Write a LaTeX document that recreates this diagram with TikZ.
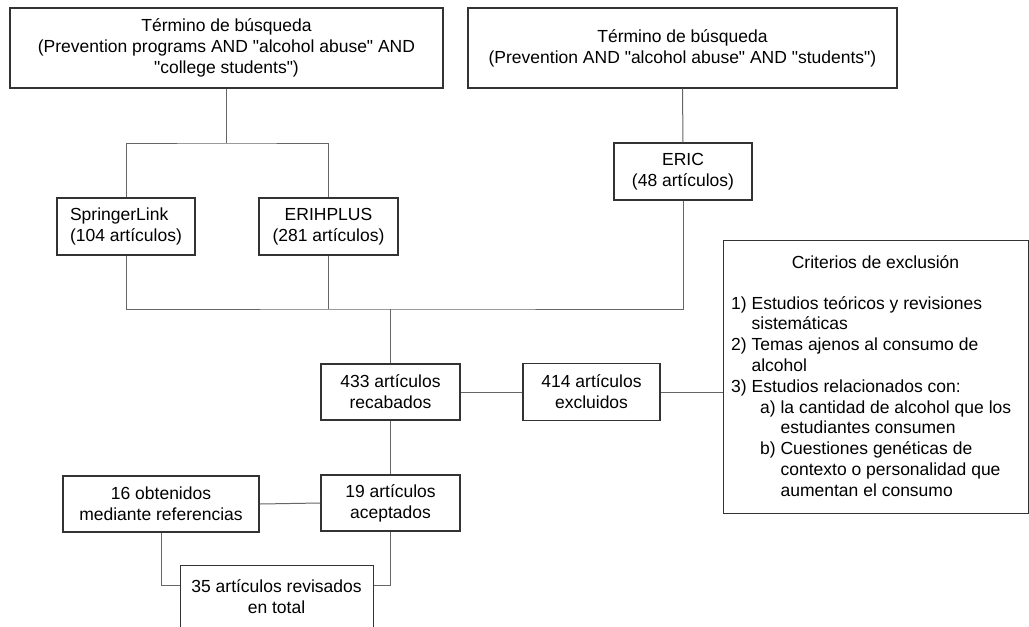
\documentclass[tikz,border=0pt]{standalone}
\usepackage{fontspec}
\setmainfont{Liberation Sans}[Ligatures=TeXOff]
\begin{document}
\begin{tikzpicture}[x=1pt,y=-1pt,
  box/.style={draw=black!80, line width=1.2pt, fill=white, inner sep=0pt, align=center, text=black},
  boldbox/.style={box, line width=1.8pt},
  link/.style={draw=black!60, line width=1pt},
  txt/.style={inner sep=0pt, text=black}]
\fontsize{17.5}{20.8}\selectfont
\useasboundingbox (0,0) rectangle (1029,627);
\clip (0,0) rectangle (1029,627);

% search terms
\node[box, minimum width=433, minimum height=80] (t1) at (226.5,48)
  {Término de búsqueda\\(Prevention programs AND "alcohol abuse" AND\\"college students")};
\node[box, minimum width=429, minimum height=80] (t2) at (682.5,48)
  {Término de búsqueda\\(Prevention AND "alcohol abuse" AND "students")};

% databases
\node[box, minimum width=138, minimum height=57, align=left] (spr) at (126,226.5)
  {SpringerLink\\(104 artículos)};
\node[box, minimum width=139, minimum height=57] (eri) at (328.5,226.5)
  {ERIHPLUS\\(281 artículos)};
\node[box, minimum width=138, minimum height=57] (eric) at (683,171.5)
  {ERIC\\(48 artículos)};

% screening
\node[boldbox, minimum width=139, minimum height=56] (rec) at (390.5,392)
  {433 artículos\\recabados};
\node[boldbox, minimum width=137, minimum height=57] (exc) at (591.5,392)
  {414 artículos\\excluidos};
\node[boldbox, minimum width=139, minimum height=56] (acc) at (390.5,503)
  {19 artículos\\aceptados};
\node[boldbox, minimum width=196, minimum height=56] (ref) at (161,504)
  {16 obtenidos\\mediante referencias};
\node[box, minimum width=193, minimum height=95, anchor=north west] (tot) at (180,565) {};
\node[txt, align=center] (tottext) at (276.5,597) {35 artículos revisados\\en total};

% exclusion criteria
\node[box, minimum width=305, minimum height=273, anchor=north west] (crit) at (723,240) {};
\node[txt, anchor=base] (crittitle) at (875.5,268) {Criterios de exclusión};
\node[txt, anchor=north west, align=left] (critlist) at (731,296)
  {1) Estudios teóricos y revisiones\\
   \phantom{1) }sistemáticas\\
   2) Temas ajenos al consumo de\\
   \phantom{2) }alcohol\\
   3) Estudios relacionados con:\\
   \hspace*{29pt}a) la cantidad de alcohol que los\\
   \hspace*{29pt}\phantom{a) }estudiantes consumen\\
   \hspace*{29pt}b) Cuestiones genéticas de\\
   \hspace*{29pt}\phantom{b) }contexto o personalidad que\\
   \hspace*{29pt}\phantom{b) }aumentan el consumo};

% connectors
\coordinate (j1) at (226.5,143);
\coordinate (j2) at (390.5,309);
\draw[link] (t1.south) -- (j1);
\draw[link] (spr.north) |- (j1) -| (eri.north);
\draw[link] (t2.south) -- (eric.north);
\draw[link] (spr.south) |- (j2) -| (eric.south);
\draw[link] (eri.south) -- (eri.south |- j2);
\draw[link] (j2) -- (rec.north);
\draw[link] (rec.east) -- (exc.west);
\draw[link] (exc.east) -- (exc.east -| crit.west);
\draw[link] (rec.south) -- (acc.north);
\draw[link] (ref.east) -- (acc.west);
\draw[link] (ref.south) |- ([yshift=-20pt]tot.north west);
\draw[link] (acc.south) |- ([yshift=-20pt]tot.north east);
\end{tikzpicture}
\end{document}
